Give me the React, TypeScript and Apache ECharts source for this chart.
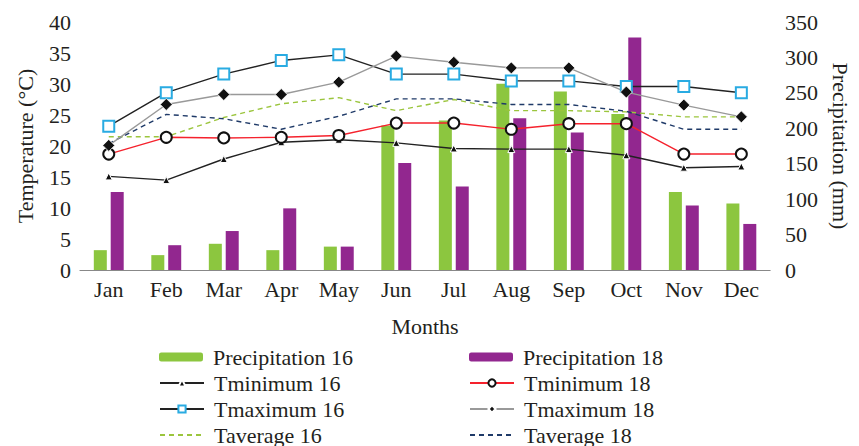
import React, { useEffect, useRef } from "react";
import * as echarts from "echarts";

const months = ["Jan", "Feb", "Mar", "Apr", "May", "Jun", "Jul", "Aug", "Sep", "Oct", "Nov", "Dec"];
const precip16 = [28, 21, 37, 28, 33, 204, 211, 263, 252, 220, 110, 94];
const precip18 = [110, 35, 55, 87, 33, 151, 118, 214, 194, 328, 91, 65];
const tmin16 = [15.1, 14.5, 17.9, 20.6, 21.0, 20.5, 19.6, 19.5, 19.5, 18.5, 16.5, 16.7];
const tmin18 = [18.7, 21.4, 21.3, 21.4, 21.7, 23.7, 23.7, 22.7, 23.6, 23.6, 18.7, 18.7];
const tmax16 = [23.2, 28.6, 31.6, 33.8, 34.7, 31.6, 31.6, 30.5, 30.5, 29.6, 29.6, 28.6];
const tmax18 = [20.1, 26.7, 28.3, 28.3, 30.3, 34.5, 33.5, 32.6, 32.6, 28.7, 26.6, 24.7];
const tavg16 = [21.5, 21.5, 24.6, 26.8, 27.8, 25.7, 27.5, 25.7, 25.7, 25.5, 24.7, 24.7];
const tavg18 = [20.4, 25.1, 24.4, 22.7, 24.8, 27.6, 27.6, 26.7, 26.7, 25.6, 22.7, 22.7];

const legendLeftCol = ["Precipitation 16", "Tminimum 16", "Tmaximum 16", "Taverage 16"];
const legendRightCol = ["Precipitation 18", "Tminimum 18", "Tmaximum 18", "Taverage 18"];

const FONT = "Liberation Serif";
const TXT = "#231F20";

export default function App() {
  const ref = useRef<HTMLDivElement>(null);
  useEffect(() => {
    if (!ref.current) return;
    const chart = echarts.init(ref.current, null, { renderer: "svg" });
    const legendText = { fontFamily: FONT, fontSize: 22, color: TXT, padding: [0, 0, 0, 5] };
    const noSym = { color: "transparent", borderColor: "transparent", borderWidth: 0 };
    const rowTops = [346, 372, 398, 424];
    const makeLegend = (name: string, left: number, top: number) => ({
      left,
      top,
      padding: 0,
      itemWidth: 44,
      itemHeight: 9,
      textStyle: legendText,
      data: [name.startsWith("Taverage") ? { name, itemStyle: noSym } : name],
    });
    const legends = [
      ...legendLeftCol.map((n, i) => makeLegend(n, 159, rowTops[i])),
      ...legendRightCol.map((n, i) => makeLegend(n, 469, rowTops[i])),
    ];
    chart.setOption({
      animation: false,
      textStyle: { fontFamily: FONT, color: TXT },
      grid: { left: 80, right: 81, top: 22, bottom: 176 },
      legend: legends,
      xAxis: {
        type: "category",
        data: months,
        name: "Months",
        nameLocation: "middle",
        nameGap: 45,
        nameTextStyle: { fontFamily: FONT, fontSize: 22, color: TXT },
        axisLine: { lineStyle: { color: "#888", width: 1.2 } },
        axisTick: { show: false },
        axisLabel: { fontFamily: FONT, fontSize: 22, color: TXT, margin: 8 },
      },
      yAxis: [
        {
          type: "value",
          min: 0,
          max: 40,
          interval: 5,
          name: "Temperature (°C)",
          nameLocation: "middle",
          nameGap: 44,
          nameTextStyle: { fontFamily: FONT, fontSize: 22, color: TXT },
          axisLine: { show: false },
          axisTick: { show: false },
          splitLine: { show: false },
          axisLabel: { fontFamily: FONT, fontSize: 22, color: TXT, margin: 9 },
        },
        {
          type: "value",
          min: 0,
          max: 350,
          interval: 50,
          name: "Precipitation (mm)",
          nameLocation: "middle",
          nameRotate: -90,
          nameGap: 51,
          nameTextStyle: { fontFamily: FONT, fontSize: 22, color: TXT },
          axisLine: { show: false },
          axisTick: { show: false },
          splitLine: { show: false },
          axisLabel: { fontFamily: FONT, fontSize: 22, color: TXT, margin: 15 },
        },
      ],
      series: [
        {
          name: "Precipitation 16",
          type: "bar",
          yAxisIndex: 1,
          data: precip16,
          barWidth: 13,
          barGap: "30%",
          itemStyle: { color: "#8CC63F" },
          z: 1,
        },
        {
          name: "Precipitation 18",
          type: "bar",
          yAxisIndex: 1,
          data: precip18,
          barWidth: 13,
          barGap: "30%",
          itemStyle: { color: "#92278F" },
          z: 1,
        },
        {
          name: "Tminimum 16",
          type: "line",
          data: tmin16,
          symbol: "triangle",
          symbolSize: 7,
          itemStyle: { color: "#111", borderColor: "#fff", borderWidth: 1 },
          lineStyle: { color: "#222", width: 1.4 },
          z: 3,
        },
        {
          name: "Tminimum 18",
          type: "line",
          data: tmin18,
          symbol: "circle",
          symbolSize: 11,
          itemStyle: { color: "#fff", borderColor: "#111", borderWidth: 2 },
          lineStyle: { color: "#F5222D", width: 1.4 },
          z: 3,
        },
        {
          name: "Tmaximum 16",
          type: "line",
          data: tmax16,
          symbol: "rect",
          symbolSize: 11,
          itemStyle: { color: "#fff", borderColor: "#29ABE2", borderWidth: 2 },
          lineStyle: { color: "#222", width: 1.4 },
          z: 3,
        },
        {
          name: "Tmaximum 18",
          type: "line",
          data: tmax18,
          symbol: "diamond",
          symbolSize: 12,
          itemStyle: { color: "#111", borderColor: "#fff", borderWidth: 0.8 },
          lineStyle: { color: "#999", width: 1.4 },
          z: 3,
        },
        {
          name: "Taverage 16",
          type: "line",
          data: tavg16,
          symbol: "none",
          itemStyle: { color: "#9BC53D" },
          lineStyle: { color: "#9BC53D", width: 1.4, type: [5, 4] },
          z: 2,
        },
        {
          name: "Taverage 18",
          type: "line",
          data: tavg18,
          symbol: "none",
          itemStyle: { color: "#1F3A68" },
          lineStyle: { color: "#1F3A68", width: 1.4, type: [5, 4] },
          z: 2,
        },
      ],
    });
    return () => chart.dispose();
  }, []);
  return (
    <div
      ref={ref}
      style={{ position: "fixed", left: 0, top: 0, width: 859, height: 446, background: "#fff" }}
    />
  );
}
